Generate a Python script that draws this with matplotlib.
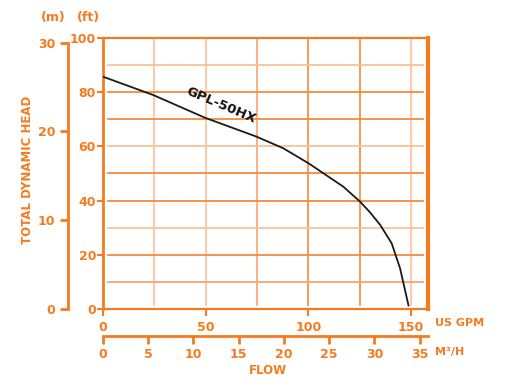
"""Pump performance curve for GPL-50HX (head vs flow)."""
import matplotlib

matplotlib.use("Agg")
import matplotlib.pyplot as plt

ORANGE = "#F47B20"
GRID_DARK = "#F58A3C"
GRID_MID = "#F8A66C"
GRID_LIGHT = "#FAC09A"

# curve: flow in US GPM, head in ft
flow_gpm = [0, 24.5, 49.7, 74.8, 87.8, 100, 117, 125.1, 130, 134.9, 140.5, 144.6, 148.7]
head_ft = [85.8, 79.0, 70.6, 63.6, 59.3, 53.8, 45.1, 39.6, 35.6, 31.0, 24.2, 14.9, 1.2]

gpm_ticks = [0, 50, 100, 150]
ft_ticks = [0, 20, 40, 60, 80, 100]
m_ticks = [0, 10, 20, 30]
m3h_ticks = [0, 5, 10, 15, 20, 25, 30, 35]

# grid positions and their shades (as drawn on the original sheet)
v_grid = [25, 50, 75, 100, 125, 150]
v_shade = [GRID_LIGHT, GRID_LIGHT, GRID_MID, GRID_DARK, GRID_DARK, GRID_LIGHT]
h_grid = [10, 20, 30, 40, 50, 60, 70, 80, 90]
h_shade = [GRID_MID, GRID_DARK, GRID_LIGHT, GRID_DARK, GRID_DARK,
           GRID_LIGHT, GRID_DARK, GRID_DARK, GRID_LIGHT]

FT_PER_M = 3.281
GPM_PER_M3H = 4.403

plt.rcParams["font.family"] = ["DejaVu Sans"]
plt.rcParams["font.weight"] = "bold"

fig = plt.figure(figsize=(5.09, 3.9), dpi=100)
ax = fig.add_axes([0.2024, 0.2085, 0.6385, 0.6933])
ax.set_xlim(0, 158.2)
ax.set_ylim(0, 100)

for v, c in zip(v_grid, v_shade):
    ax.axvline(v, ymin=0.012, ymax=1, color=c, lw=1.2, zorder=1)
for v, c in zip(h_grid, h_shade):
    ax.axhline(v, xmin=0.015, xmax=0.985, color=c, lw=1.3, zorder=1)

ax.plot(flow_gpm, head_ft, color="#1a1a1a", lw=1.3, zorder=3)
ax.text(57.5, 75.2, "GPL-50HX", rotation=-23, ha="center", va="center",
        fontsize=9.5, fontweight="bold", color="#111111", zorder=4)

for side, w in [("left", 2.0), ("bottom", 1.6), ("top", 1.6), ("right", 3.0)]:
    ax.spines[side].set_color(ORANGE)
    ax.spines[side].set_linewidth(w)

ax.set_xticks(gpm_ticks)
ax.set_yticks(ft_ticks)
ax.tick_params(colors=ORANGE, labelsize=9, length=4, width=1.5, direction="out")
ax.tick_params(axis="y", pad=1)
ax.tick_params(axis="x", length=5, pad=4)
for lab in ax.get_xticklabels() + ax.get_yticklabels():
    lab.set_fontweight("bold")

# metres axis on the far left
ax_m = ax.secondary_yaxis(-0.1077, functions=(lambda f: f / FT_PER_M, lambda m: m * FT_PER_M))
ax_m.set_yticks(m_ticks)
ax_m.spines["left"].set_color(ORANGE)
ax_m.spines["left"].set_linewidth(2.0)
ax_m.spines["left"].set_bounds(0, 30)
ax_m.tick_params(colors=ORANGE, labelsize=9, length=6, width=2, pad=3)
for lab in ax_m.get_yticklabels():
    lab.set_fontweight("bold")

# cubic metres per hour axis below
ax_q = ax.secondary_xaxis(-0.0999, functions=(lambda g: g / GPM_PER_M3H, lambda q: q * GPM_PER_M3H))
ax_q.set_xticks(m3h_ticks)
ax_q.spines["bottom"].set_color(ORANGE)
ax_q.spines["bottom"].set_linewidth(2.0)
ax_q.tick_params(colors=ORANGE, labelsize=9, length=6, width=2, pad=3)
for lab in ax_q.get_xticklabels():
    lab.set_fontweight("bold")

txt = dict(color=ORANGE, fontweight="bold", transform=fig.transFigure)
fig.text(53 / 509, 1 - 17 / 390, "(m)", ha="center", va="center", fontsize=9, **txt)
fig.text(88 / 509, 1 - 17 / 390, "(ft)", ha="center", va="center", fontsize=9, **txt)
fig.text(28 / 509, 1 - 170 / 390, "TOTAL DYNAMIC HEAD", rotation=90, ha="center",
         va="center", fontsize=8.5, **txt)
fig.text(435 / 509, 1 - 323 / 390, "US GPM", ha="left", va="center", fontsize=8, **txt)
fig.text(435 / 509, 1 - 352 / 390, "M³/H", ha="left", va="center", fontsize=8, **txt)
fig.text(267.5 / 509, 1 - 370 / 390, "FLOW", ha="center", va="center", fontsize=8.5, **txt)

fig.savefig("out.png", dpi=100)
